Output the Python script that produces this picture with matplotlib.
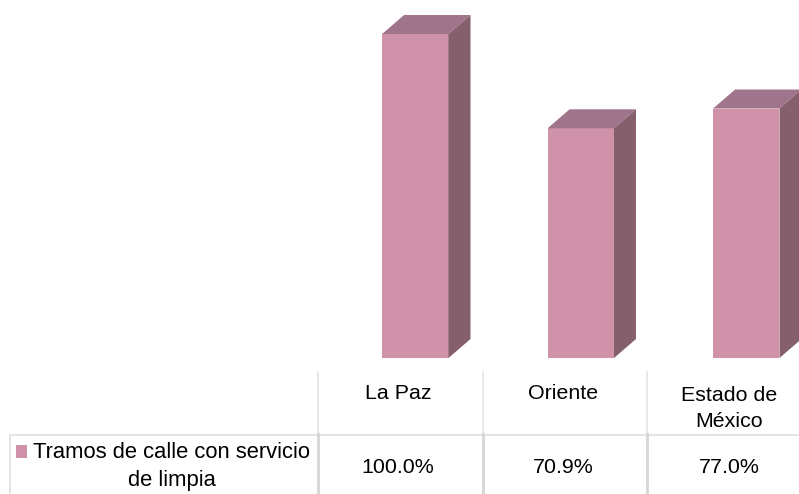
import matplotlib
matplotlib.use('Agg')
import matplotlib.pyplot as plt
from matplotlib.patches import Polygon, Rectangle

# datos de la grafica
categorias = ['La Paz', 'Oriente', 'Estado de\nMéxico']
valores = [100.0, 70.9, 77.0]
etiquetas = ['100.0%', '70.9%', '77.0%']
serie = 'Tramos de calle con servicio\nde limpia'

plt.rcParams['font.family'] = ['Liberation Sans', 'DejaVu Sans']

W, H = 799, 494
frente = '#cf92a8'
arriba = '#a0748a'
lado = '#855f6b'
linea = '#e2e2e2'
linea2 = '#d6d6d6'
fs = 15.4

fig = plt.figure(figsize=(W / 100, H / 100), dpi=100)

# ejes de las barras: x en categorias, y en valor (0 en px 358, 100 en px 34)
ax = fig.add_axes([0, 0, 1, 1])
ax.set_xlim((0 - 398) / 165.5, (W - 398) / 165.5)
ax.set_ylim((358 - H) * 100 / 324, 358 * 100 / 324)
ax.axis('off')

ancho = 33.2 / 165.5
desp = 17.3 / 165.5
dx = 22 / 165.5
dy = 19 * 100 / 324

for i, v in enumerate(valores):
    x0 = i + desp - ancho
    x1 = i + desp + ancho
    ax.add_patch(Rectangle((x0, 0), x1 - x0, v, fc=frente, ec='none'))
    ax.add_patch(Polygon([(x0, v), (x1, v), (x1 + dx, v + dy), (x0 + dx, v + dy)], fc=arriba, ec='none'))
    ax.add_patch(Polygon([(x1, 0), (x1 + dx, dy), (x1 + dx, v + dy), (x1, v)], fc=lado, ec='none'))

# tabla de datos, en pixeles
tx = fig.add_axes([0, 0, 1, 1])
tx.set_xlim(0, W)
tx.set_ylim(H, 0)
tx.axis('off')

tx.plot([10, W], [434.5, 434.5], color=linea, lw=1.3)
tx.plot([10, 10], [434.5, H], color=linea, lw=1.3)
for xl in [317.5, 482.5, 647]:
    tx.plot([xl, xl], [372, 434], color=linea, lw=1.1)
    tx.plot([xl, xl], [434, 493], color=linea2, lw=2.0)

tx.add_patch(Rectangle((16, 445), 11, 12.5, fc=frente, ec='none'))
tx.text(171.5, 466.5, serie, ha='center', va='center', fontsize=15.8, color='black', linespacing=1.42)

for i, c in enumerate(categorias):
    xc = 398 + 165.5 * i
    if '\n' in c:
        tx.text(xc, 408.5, c, ha='center', va='center', fontsize=fs, color='black', linespacing=1.42)
    else:
        tx.text(xc, 393.5, c, ha='center', va='center', fontsize=fs, color='black')
    tx.text(xc, 467, etiquetas[i], ha='center', va='center', fontsize=fs, color='black')

fig.savefig('out.png', dpi=100)
